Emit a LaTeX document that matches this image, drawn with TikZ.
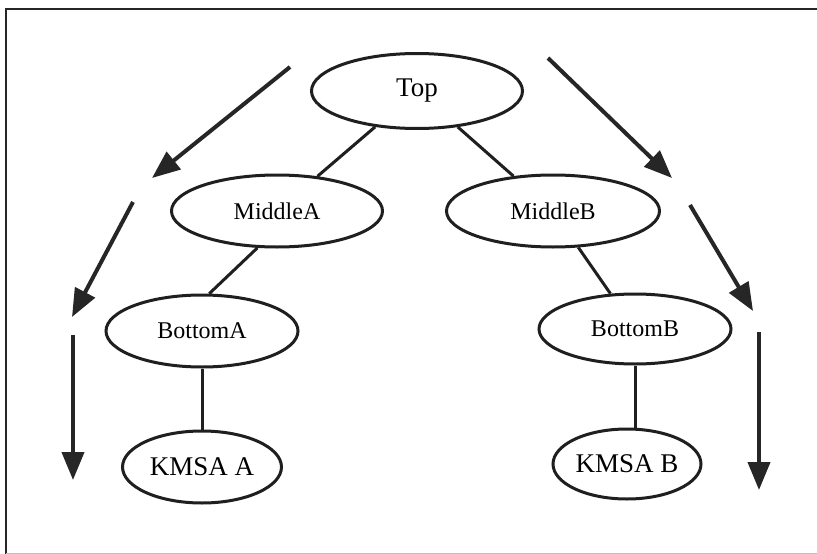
\documentclass[tikz,border=0pt]{standalone}
\usepackage{fontspec}
\setmainfont{Liberation Serif}
\usetikzlibrary{shapes.geometric,arrows.meta}
\begin{document}
\begin{tikzpicture}[x=1pt,y=-1pt,
  oval/.style={ellipse,draw=black!88,line width=3pt,inner sep=0pt,fill=white},
  big/.style={font=\fontsize{27}{30}\selectfont},
  small/.style={font=\fontsize{24}{27}\selectfont},
  link/.style={draw=black!88,line width=3pt},
  flow/.style={draw=black!85,line width=4pt,-{Triangle[length=28pt,width=22pt]}}]
\useasboundingbox (0,0) rectangle (817,554);
\fill[white] (0,0) rectangle (817,554);
% frame
\draw[black!85,line width=2.5pt] (6,554) -- (6,9) -- (817,9);
\draw[black!25,line width=1pt] (6,553) -- (817,553);
% nodes
\node[oval,big,minimum width=211pt,minimum height=75pt] (top) at (417,91) {Top};
\node[oval,small,minimum width=211pt,minimum height=72pt] (ma) at (277,211) {MiddleA};
\node[oval,small,minimum width=213pt,minimum height=72pt] (mb) at (553,211) {MiddleB};
\node[oval,small,minimum width=192pt,minimum height=72pt] (ba) at (202,331) {BottomA};
\node[oval,small,minimum width=192pt,minimum height=70pt] (bb) at (635,329) {BottomB};
\node[oval,big,minimum width=159pt,minimum height=72pt] (ka) at (202,467) {KMSA A};
\node[oval,big,minimum width=148pt,minimum height=70pt] (kb) at (627,464) {KMSA B};
% links
\draw[link] (top) -- (ma);
\draw[link] (top) -- (mb);
\draw[link] (ma.242) -- (ba.79);
\draw[link] (mb) -- (bb);
\draw[link] (ba.south) -- (ka.north);
\draw[link] (bb.south) -- (bb.south |- kb.north);
% flow arrows
\coordinate (l1s) at (290,67);  \coordinate (l1e) at (152,178);
\coordinate (l2s) at (133,202); \coordinate (l2e) at (72,317);
\coordinate (l3s) at (73,335);  \coordinate (l3e) at (73,480);
\coordinate (r1s) at (548,58);  \coordinate (r1e) at (672,178);
\coordinate (r2s) at (690,205); \coordinate (r2e) at (753,311);
\coordinate (r3s) at (759,332); \coordinate (r3e) at (759,490);
\draw[flow] (l1s) -- (l1e);
\draw[flow] (l2s) -- (l2e);
\draw[flow] (l3s) -- (l3e);
\draw[flow] (r1s) -- (r1e);
\draw[flow] (r2s) -- (r2e);
\draw[flow] (r3s) -- (r3e);
\end{tikzpicture}
\end{document}
